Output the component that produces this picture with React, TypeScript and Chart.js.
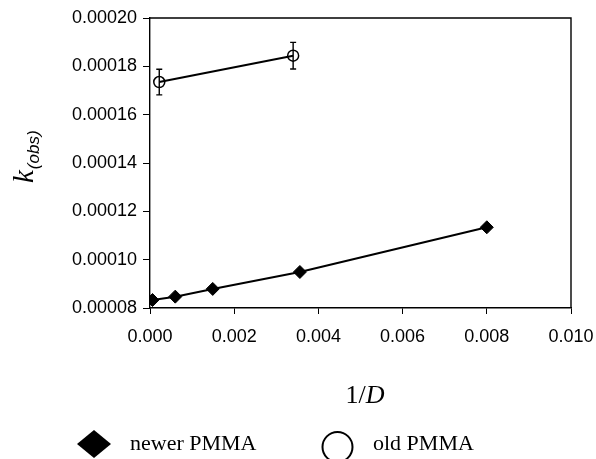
import { useEffect, useRef } from "react";
import { Chart, registerables } from "chart.js";
Chart.register(...registerables);

// ---- data ----
const newerX = [0.00006, 0.0006, 0.00149, 0.00356, 0.008];
const newerY = [0.0000833, 0.0000847, 0.0000879, 0.0000949, 0.0001134];
const oldX = [0.00022, 0.0034];
const oldY = [0.0001735, 0.0001844];
const oldErr = [0.0000053, 0.0000055];

const xTicks = [0, 0.002, 0.004, 0.006, 0.008, 0.01];
const xTickLabels = ["0.000", "0.002", "0.004", "0.006", "0.008", "0.010"];
const yTicks = [0.00008, 0.0001, 0.00012, 0.00014, 0.00016, 0.00018, 0.0002];
const yTickLabels = ["0.00008", "0.00010", "0.00012", "0.00014", "0.00016", "0.00018", "0.00020"];

const seriesLabels = ["newer PMMA", "old PMMA"];

const tickFont = "'Liberation Sans', Arial, sans-serif";
const serif = "'Liberation Serif', 'Times New Roman', serif";

function findLabel(ticks: number[], labels: string[], v: number) {
  const i = ticks.findIndex((t) => Math.abs(t - v) < 1e-10);
  return i >= 0 ? labels[i] : "";
}

export default function App() {
  const ref = useRef<HTMLCanvasElement>(null);
  useEffect(() => {
    document.body.style.margin = "0";
    const errorBars = {
      id: "errorBars",
      afterDatasetsDraw(chart: any) {
        const { ctx, scales } = chart;
        const xs = scales.x, ys = scales.y;
        ctx.save();
        ctx.strokeStyle = "#000";
        ctx.lineWidth = 1.4;
        for (let i = 0; i < oldX.length; i++) {
          const x = xs.getPixelForValue(oldX[i]);
          const y1 = ys.getPixelForValue(oldY[i] + oldErr[i]);
          const y2 = ys.getPixelForValue(oldY[i] - oldErr[i]);
          ctx.beginPath();
          ctx.moveTo(x, y1); ctx.lineTo(x, y2);
          ctx.moveTo(x - 3, y1); ctx.lineTo(x + 3, y1);
          ctx.moveTo(x - 3, y2); ctx.lineTo(x + 3, y2);
          ctx.stroke();
        }
        ctx.restore();
      },
    };
    const decorations = {
      id: "decorations",
      afterDraw(chart: any) {
        const { ctx, chartArea } = chart;
        ctx.save();
        // frame top/right
        ctx.strokeStyle = "#000";
        ctx.lineWidth = 1.4;
        ctx.beginPath();
        ctx.moveTo(chartArea.left, chartArea.top);
        ctx.lineTo(chartArea.right, chartArea.top);
        ctx.lineTo(chartArea.right, chartArea.bottom);
        ctx.stroke();

        ctx.fillStyle = "#000";
        // x title "1/D"
        ctx.textBaseline = "alphabetic";
        ctx.textAlign = "left";
        ctx.font = `26px ${serif}`;
        const a = "1/";
        const wa = ctx.measureText(a).width;
        ctx.font = `italic 26px ${serif}`;
        const wb = ctx.measureText("D").width;
        const cx = 365;
        const sx = cx - (wa + wb) / 2;
        ctx.font = `26px ${serif}`;
        ctx.fillText(a, sx, 403);
        ctx.font = `italic 26px ${serif}`;
        ctx.fillText("D", sx + wa, 403);

        // y title k(obs)
        ctx.save();
        ctx.translate(33, 183);
        ctx.rotate(-Math.PI / 2);
        ctx.font = `italic 29px ${serif}`;
        ctx.fillText("k", 0, 0);
        const wk = ctx.measureText("k").width;
        ctx.font = `italic 17px 'Liberation Sans', Arial, sans-serif`;
        ctx.fillText("(obs)", wk + 1, 6);
        ctx.restore();

        // legend
        const ds = chart.data.datasets;
        ctx.font = `22px ${serif}`;
        ctx.beginPath();
        ctx.moveTo(77, 444); ctx.lineTo(94, 430); ctx.lineTo(111, 444); ctx.lineTo(94, 458);
        ctx.closePath();
        ctx.fill();
        ctx.fillText(ds[0].label, 130, 450);
        ctx.lineWidth = 2;
        ctx.beginPath();
        ctx.arc(337.5, 447, 15, 0, Math.PI * 2);
        ctx.stroke();
        ctx.fillText(ds[1].label, 373, 450);
        ctx.restore();
      },
    };

    const chart = new Chart(ref.current!, {
      type: "scatter",
      data: {
        datasets: [
          {
            label: seriesLabels[0],
            data: newerX.map((x, i) => ({ x, y: newerY[i] })),
            showLine: true,
            borderColor: "#000",
            borderWidth: 2,
            backgroundColor: "#000",
            pointStyle: "rectRot",
            pointRadius: 6.5,
            pointBorderWidth: 1,
            pointBorderColor: "#000",
            pointBackgroundColor: "#000",
          },
          {
            label: seriesLabels[1],
            data: oldX.map((x, i) => ({ x, y: oldY[i] })),
            showLine: true,
            borderColor: "#000",
            borderWidth: 2,
            backgroundColor: "rgba(0,0,0,0)",
            pointStyle: "circle",
            pointRadius: 5.5,
            pointBorderWidth: 1.5,
            pointBorderColor: "#000",
            pointBackgroundColor: "rgba(0,0,0,0)",
          },
        ],
      },
      options: {
        responsive: false,
        animation: false,
        devicePixelRatio: 1,
        layout: { padding: { left: 0, top: 18, right: 25, bottom: 0 } },
        plugins: { legend: { display: false }, tooltip: { enabled: false } },
        scales: {
          x: {
            type: "linear",
            min: 0,
            max: 0.01,
            afterBuildTicks: (s: any) => { s.ticks = xTicks.map((v) => ({ value: v })); },
            afterFit: (s: any) => { s.height = 151; s.paddingRight = 0; s.paddingLeft = 0; },
            ticks: {
              callback: (v: any) => findLabel(xTicks, xTickLabels, Number(v)),
              font: { family: tickFont, size: 18 },
              color: "#000",
              padding: 12,
              maxRotation: 0,
              autoSkip: false,
            },
            grid: { drawOnChartArea: false, drawTicks: true, tickLength: 6, color: "#000", lineWidth: 1 },
            border: { display: true, color: "#000", width: 1.4 },
          },
          y: {
            type: "linear",
            min: 0.00008,
            max: 0.0002,
            afterBuildTicks: (s: any) => { s.ticks = yTicks.map((v) => ({ value: v })); },
            afterFit: (s: any) => { s.width = 150; s.paddingTop = 0; s.paddingBottom = 0; },
            ticks: {
              callback: (v: any) => findLabel(yTicks, yTickLabels, Number(v)),
              font: { family: tickFont, size: 18 },
              color: "#000",
              padding: 6,
              autoSkip: false,
            },
            grid: { drawOnChartArea: false, drawTicks: true, tickLength: 7, color: "#000", lineWidth: 1 },
            border: { display: true, color: "#000", width: 1.4 },
          },
        },
      },
      plugins: [errorBars, decorations],
    } as any);
    return () => chart.destroy();
  }, []);
  return (
    <div style={{ width: 596, height: 459 }}>
      <canvas ref={ref} width={596} height={459} style={{ display: "block", width: 596, height: 459 }} />
    </div>
  );
}
